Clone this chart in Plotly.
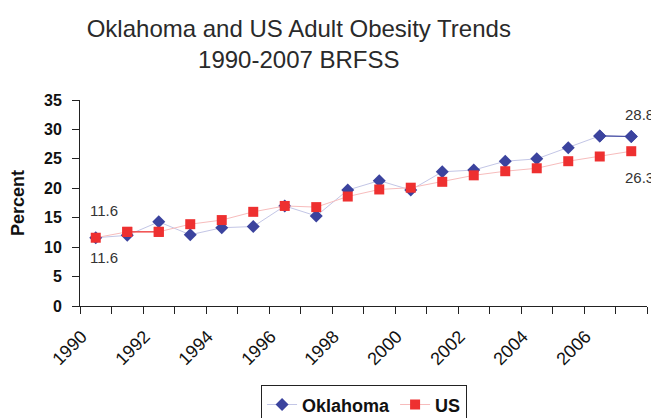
import plotly.graph_objects as go

years = list(range(1990, 2008))
oklahoma = [11.6, 12.0, 14.3, 12.1, 13.3, 13.5, 17.0, 15.3, 19.7, 21.3,
            19.7, 22.8, 23.1, 24.6, 25.0, 26.9, 28.9, 28.8]
us = [11.6, 12.6, 12.6, 13.9, 14.6, 16.0, 17.0, 16.8, 18.6, 19.8,
      20.1, 21.1, 22.2, 22.9, 23.4, 24.6, 25.4, 26.3]
tick_years = [y for y in years if y % 2 == 0]
tick_text = [str(y) for y in tick_years]

ok_marker = "#3b439e"
us_marker = "#ee3030"
font_family = "Liberation Sans, Arial, sans-serif"

fig = go.Figure()
fig.add_trace(go.Scatter(
    x=years, y=oklahoma, name="Oklahoma", mode="lines+markers",
    line=dict(color="#c3c6e6", width=1),
    marker=dict(symbol="diamond", size=10, color=ok_marker),
))
fig.add_trace(go.Scatter(
    x=years, y=us, name="US", mode="lines+markers",
    line=dict(color="#f7bcbc", width=1),
    marker=dict(symbol="square", size=10, color=us_marker),
))
# darker segments as in the original
fig.add_trace(go.Scatter(
    x=years[16:18], y=oklahoma[16:18], mode="lines+markers", showlegend=False,
    line=dict(color=ok_marker, width=1.2),
    marker=dict(symbol="diamond", size=10, color=ok_marker),
))
fig.add_trace(go.Scatter(
    x=years[1:3], y=us[1:3], mode="lines+markers", showlegend=False,
    line=dict(color=us_marker, width=1.2),
    marker=dict(symbol="square", size=10, color=us_marker),
))

lab_font = dict(family=font_family, size=15, color="#333333")
fig.add_annotation(x=years[0], y=oklahoma[0], text=f"{oklahoma[0]:.1f}", showarrow=False,
                   xshift=8, yshift=27, font=lab_font)
fig.add_annotation(x=years[0], y=us[0], text=f"{us[0]:.1f}", showarrow=False,
                   xshift=8, yshift=-20, font=lab_font)
fig.add_annotation(x=years[-1], y=oklahoma[-1], text=f"{oklahoma[-1]:.1f}", showarrow=False,
                   xanchor="left", xshift=-8, yshift=22, font=lab_font)
fig.add_annotation(x=years[-1], y=us[-1], text=f"{us[-1]:.1f}", showarrow=False,
                   xanchor="left", xshift=-8, yshift=-26, font=lab_font)

fig.update_layout(
    width=651, height=418,
    margin=dict(l=80, r=4, t=100, b=112, autoexpand=False),
    paper_bgcolor="white", plot_bgcolor="white",
    font=dict(family=font_family, color="#111111"),
    title=dict(text="Oklahoma and US Adult Obesity Trends<br>1990-2007 BRFSS",
               x=0.459, xanchor="center", y=0.911, yanchor="top",
               font=dict(family=font_family, size=24, color="#2a2a2a")),
    showlegend=True,
    legend=dict(orientation="h", x=0.501, xanchor="center", y=-0.385, yanchor="top",
                bordercolor="#222222", borderwidth=1, bgcolor="white",
                font=dict(family=font_family, size=18, color="#111111", weight="bold"),
                itemwidth=30, tracegroupgap=0),
)
fig.update_xaxes(
    range=[1989.5, 2007.5], tickvals=tick_years, ticktext=tick_text,
    tickangle=-45, ticks="", ticklabelstandoff=12, ticklabelshift=-14, automargin=False,
    minor=dict(ticks="outside", tick0=1989.5, dtick=1, ticklen=7, tickcolor="#222222",
               showgrid=False),
    showline=True, linecolor="#222222", linewidth=1, showgrid=False, zeroline=False,
    tickfont=dict(family=font_family, size=18, color="#111111"),
)
fig.update_yaxes(
    range=[0, 35], dtick=5, ticks="outside", ticklen=7, tickcolor="#222222",
    ticklabelstandoff=7, automargin=False,
    showline=True, linecolor="#222222", linewidth=1, showgrid=False, zeroline=False,
    tickfont=dict(family=font_family, size=16, color="#111111", weight="bold"),
    title=dict(text="Percent", standoff=14,
               font=dict(family=font_family, size=18, color="#111111", weight="bold")),
)

fig.write_html("out.html", config={"displayModeBar": False},
               post_script="document.body.style.margin='0';document.body.style.padding='0';")
